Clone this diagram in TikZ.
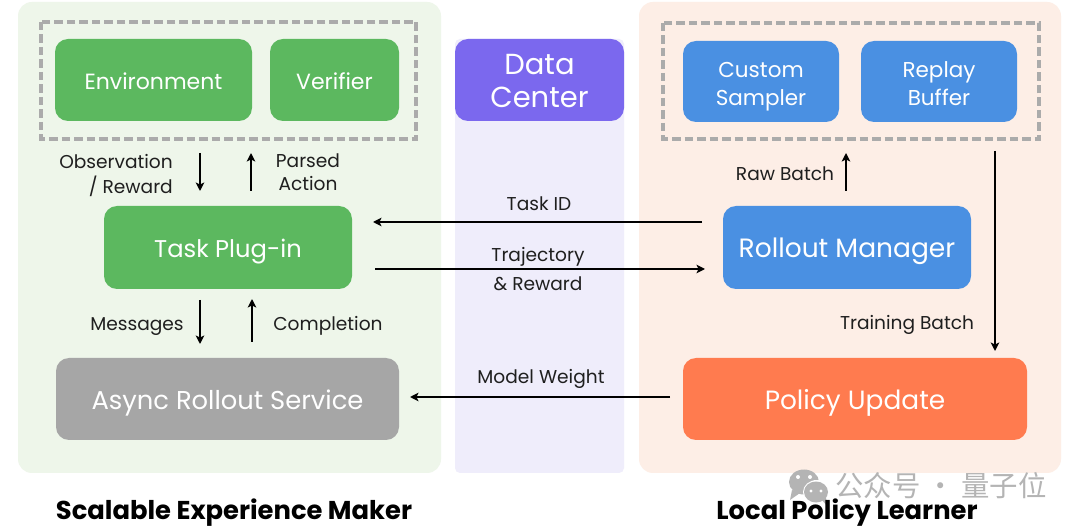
\documentclass[tikz,border=0pt]{standalone}
\usepackage{fontspec}
\setmainfont{Poppins}
\newfontfamily\cjk{Noto Sans CJK SC}
\usetikzlibrary{arrows.meta}
\definecolor{panelgreen}{HTML}{EEF6EA}
\definecolor{panelpurple}{HTML}{EFEDFB}
\definecolor{panelorange}{HTML}{FDEEE6}
\definecolor{boxgreen}{HTML}{5CB85F}
\definecolor{boxblue}{HTML}{4A90E2}
\definecolor{boxorange}{HTML}{FF7B4F}
\definecolor{boxpurple}{HTML}{7B68EE}
\definecolor{boxgray}{HTML}{A6A6A6}
\definecolor{dashgray}{HTML}{ABABAB}
\definecolor{wmgray}{HTML}{B4B4B4}
\tikzset{
  x=1pt,y=-1pt,
  panel/.style={rounded corners=14pt,inner sep=0pt},
  dashbox/.style={draw=dashgray,line width=3.05pt,dash pattern=on 8.5pt off 4pt},
  flow/.style={-{Stealth[length=8.5pt,width=8.5pt,inset=2pt]},line width=1.7pt,black},
  lab/.style={inner sep=0pt,yshift=-2.5pt,align=center,font=\fontsize{18.6}{22.6}\selectfont,text=black!88},
  big/.style={inner sep=0pt,yshift=-3pt,font=\bfseries\fontsize{25.8}{30}\selectfont,text=black},
}
\newcommand{\boxat}[8]{% name, x0,y0,x1,y1, fill, font sizes, text
  \path[fill=#6,rounded corners=13pt] (#2,#3) rectangle (#4,#5);
  \node[inner sep=0pt,yshift=-4.3pt,align=center,text=white,font=#7] (#1) at ({(#2+#4)/2},{(#3+#5)/2}) {#8};
}
\begin{document}
\begin{tikzpicture}
\useasboundingbox (0,0) rectangle (1080,529);
\fill[white] (0,0) rectangle (1080,529);
% panels
\fill[panelgreen,panel] (18,2) rectangle (441,473);
\fill[panelpurple,rounded corners=5pt] (455,39) rectangle (624,473);
\fill[panelorange,panel] (639,2) rectangle (1061,473);
% dashed groups
\draw[dashbox] (41,22) rectangle (416,139);
\draw[dashbox] (663,23) rectangle (1039,139);
% blocks
\boxat{env}{55}{39}{252}{121}{boxgreen}{\fontsize{22}{28}\selectfont}{\strut Environment}
\boxat{ver}{270}{39}{399}{121}{boxgreen}{\fontsize{22}{28}\selectfont}{\strut Verifier}
\boxat{task}{104}{206}{352}{289}{boxgreen}{\fontsize{24.2}{30}\selectfont}{\strut Task Plug-in}
\boxat{async}{56}{358}{399}{440}{boxgray}{\fontsize{25.8}{30}\selectfont}{\strut Async Rollout Service}
\boxat{dc}{455}{39}{624}{121}{boxpurple}{\fontsize{29}{32.5}\selectfont}{\strut Data\\\strut Center}
\boxat{cs}{683}{41}{839}{122}{boxblue}{\fontsize{21.5}{28}\selectfont}{\strut Custom\\\strut Sampler}
\boxat{rb}{861}{41}{1017}{122}{boxblue}{\fontsize{21.5}{28}\selectfont}{\strut Replay\\\strut Buffer}
\boxat{rm}{723}{206}{971}{289}{boxblue}{\fontsize{26.5}{30}\selectfont}{\strut Rollout Manager}
\boxat{pu}{683}{358}{1027}{440}{boxorange}{\fontsize{26.4}{30}\selectfont}{\strut Policy Update}
% connector ends
\coordinate (o1) at (200,153); \coordinate (o2) at (200,191);
\coordinate (p1) at (251,191); \coordinate (p2) at (251,153);
\coordinate (m1) at (200,300); \coordinate (m2) at (200,344);
\coordinate (c1) at (252,342); \coordinate (c2) at (252,299);
\coordinate (t1) at (702,222); \coordinate (t2) at (373,222);
\coordinate (j1) at (375,269); \coordinate (j2) at (705,269);
\coordinate (w1) at (670,397); \coordinate (w2) at (410,397);
\coordinate (r1) at (846,191); \coordinate (r2) at (846,153);
\coordinate (b1) at (995,151); \coordinate (b2) at (995,351);
\draw[flow] (o1) -- (o2);
\draw[flow] (p1) -- (p2);
\draw[flow] (m1) -- (m2);
\draw[flow] (c1) -- (c2);
\draw[flow] (t1) -- (t2);
\draw[flow] (j1) -- (j2);
\draw[flow] (w1) -- (w2);
\draw[flow] (r1) -- (r2);
\draw[flow] (b1) -- (b2);
% labels
\node[lab,align=right,anchor=east] (lobs) at (173,174) {\strut Observation\\\strut / Reward};
\node[lab] (lpar) at (308,172) {\strut Parsed\\\strut Action};
\node[lab] (lmsg) at (137,323) {\strut Messages};
\node[lab] (lcom) at (328,323) {\strut Completion};
\node[lab] (ltid) at (539,203) {\strut Task ID};
\node[lab,font=\fontsize{18.6}{29}\selectfont] (ltraj) at (538,267.5) {\strut Trajectory\\\strut \& Reward};
\node[lab] (lmw) at (541,376) {\strut Model Weight};
\node[lab] (lraw) at (785,173) {\strut Raw Batch};
\node[lab] (ltb) at (907,322.5) {\strut Training Batch};
% watermark
\fill[wmgray] (804,482) ellipse (15pt and 12.5pt);
\fill[wmgray] (792,490) -- (790,500) -- (800,493) -- cycle;
\fill[white] (817,492) ellipse (14pt and 12pt);
\fill[wmgray] (816,492) ellipse (12pt and 10.5pt);
\fill[wmgray] (822,500) -- (827,506) -- (826,497) -- cycle;
\fill[white] (798,477) circle (2pt) (810,477) circle (2pt) (811,491) circle (1.6pt) (821,491) circle (1.6pt);
\node[inner sep=0pt,text=wmgray,font=\cjk\fontsize{28.4}{30}\selectfont] (wm) at (941,486) {公众号 · 量子位};
% titles
\node[big] (tl) at (234,510) {\strut Scalable Experience Maker};
\node[big] (tr) at (847,510) {\strut Local Policy Learner};
\end{tikzpicture}
\end{document}
